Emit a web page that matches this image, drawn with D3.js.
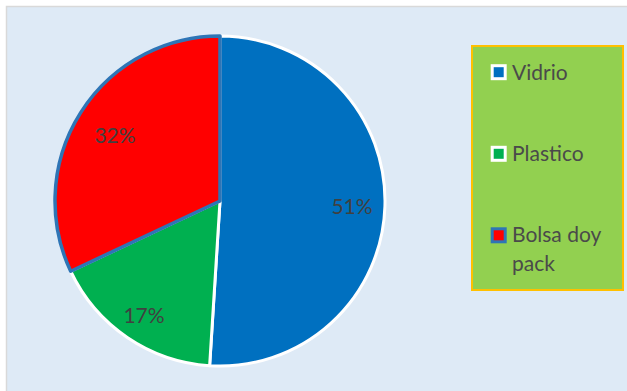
<!DOCTYPE html>
<html>
<head>
<meta charset="utf-8">
<script src="https://cdn.jsdelivr.net/npm/d3@7"></script>
<style>
  html, body { margin: 0; padding: 0; background: #ffffff; }
  svg { display: block; }
  text { font-family: Lato, "Open Sans", sans-serif; }
</style>
</head>
<body>
<svg id="chart" width="627" height="391"></svg>
<script>
// Packaging share data
const categories = ["Vidrio", "Plastico", "Bolsa doy pack"];
const shares = [51, 17, 32];
const labels = ["51%", "17%", "32%"];
const fills = ["#0070C0", "#00B050", "#FF0000"];
const strokes = ["#ffffff", "#ffffff", "#2E75B6"];

const W = 627, H = 391;
const svg = d3.select("#chart");

// Plot area background
svg.append("rect")
  .attr("x", 6.5).attr("y", 6.5)
  .attr("width", W).attr("height", H)
  .attr("fill", "#DEEAF6")
  .attr("stroke", "#D9D9D9")
  .attr("stroke-width", 1.5);

const cx = 220, cy = 201, r = 165;

const pie = d3.pie().sort(null).value(d => d.v);
const arcs = pie(categories.map((c, i) => ({ c, v: shares[i], i })));
const arc = d3.arc().innerRadius(0).outerRadius(r);

const g = svg.append("g").attr("transform", `translate(${cx},${cy})`);

g.selectAll("path.slice")
  .data(arcs)
  .join("path")
  .attr("class", "slice")
  .attr("d", arc)
  .attr("fill", d => fills[d.data.i])
  .attr("stroke", d => strokes[d.data.i])
  .attr("stroke-width", d => d.data.i === 2 ? 3.5 : 3)
  .attr("stroke-linejoin", "round");

// Draw the outlined slice last so its border sits on top
g.selectAll("path.slice").filter(d => d.data.i === 2).raise();

// Percentage labels (baseline positions relative to the pie centre)
const labelPos = [
  [132, 13],
  [-76, 121.5],
  [-105, -58]
];
g.selectAll("text.pct")
  .data(arcs)
  .join("text")
  .attr("class", "pct")
  .attr("x", d => labelPos[d.data.i][0])
  .attr("y", d => labelPos[d.data.i][1])
  .attr("text-anchor", "middle")
  .attr("font-size", 21)
  .attr("fill", "#404040")
  .text(d => labels[d.data.i]);

// Legend
const lg = svg.append("g");
lg.append("rect")
  .attr("x", 472).attr("y", 46)
  .attr("width", 151).attr("height", 244)
  .attr("fill", "#92D050")
  .attr("stroke", "#FFC000")
  .attr("stroke-width", 2);

const markerY = [72.2, 153.8, 235.3];
const baseY = [80, 160.7, 242];
categories.forEach((c, i) => {
  lg.append("rect")
    .attr("x", 492.2).attr("y", markerY[i] - 6.5)
    .attr("width", 13).attr("height", 13)
    .attr("fill", fills[i])
    .attr("stroke", strokes[i])
    .attr("stroke-width", 3);
  const words = i === 2 ? ["Bolsa doy", "pack"] : [c];
  const t = lg.append("text")
    .attr("x", 512).attr("y", baseY[i])
    .attr("font-size", 21)
    .attr("fill", "#4A4A4A");
  words.forEach((w, k) => {
    t.append("tspan").attr("x", 512).attr("dy", k === 0 ? 0 : 28.5).text(w);
  });
});
</script>
</body>
</html>
